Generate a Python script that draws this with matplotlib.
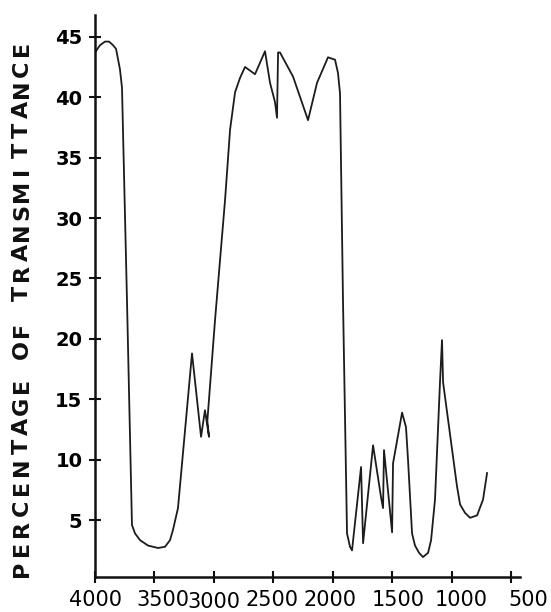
import matplotlib
matplotlib.use("Agg")
import matplotlib.pyplot as plt
import matplotlib.transforms as mtransforms

# hand traced IR spectrum (wavenumber cm-1, % transmittance)
wavenumber = [4000, 3958, 3916, 3882, 3848, 3823, 3790, 3773, 3731, 3689,
              3663, 3621, 3554, 3470, 3411, 3369, 3344, 3302, 3184, 3108,
              3075, 3041, 3055, 2990, 2906, 2864, 2822, 2780, 2738, 2654,
              2570, 2528, 2486, 2469, 2460, 2444, 2334, 2208, 2132, 2040,
              1981, 1956, 1939, 1914, 1880, 1855, 1838, 1762, 1745, 1661,
              1594, 1577, 1569, 1501, 1493, 1417, 1384, 1367, 1333, 1308,
              1274, 1241, 1198, 1173, 1140, 1098, 1081, 1072, 955, 929,
              887, 845, 786, 736, 702]
transmittance = [43.7, 44.3, 44.6, 44.6, 44.3, 44.0, 42.3, 40.8, 23.2, 4.6,
                 3.9, 3.35, 2.9, 2.7, 2.8, 3.35, 4.2, 6.0, 18.8, 11.9,
                 14.1, 11.9, 13.2, 21.6, 31.5, 37.3, 40.4, 41.6, 42.5, 41.9,
                 43.8, 41.2, 39.6, 38.3, 43.7, 43.7, 41.7, 38.1, 41.2, 43.3,
                 43.1, 42.0, 40.3, 23.2, 3.9, 2.8, 2.5, 9.4, 3.1, 11.2,
                 6.9, 6.0, 10.8, 4.0, 9.7, 13.9, 12.7, 10.0, 3.9, 2.9,
                 2.3, 1.95, 2.3, 3.35, 6.7, 16.4, 19.9, 16.4, 7.8, 6.3,
                 5.6, 5.2, 5.4, 6.7, 8.9]

x_ticks = [4000, 3500, 3000, 2500, 2000, 1500, 1000, 500]
x_tick_labels = ['4000', '3500', '3000', '2500', '2000', '1500', '1000', '500']
y_ticks = [5, 10, 15, 20, 25, 30, 35, 40, 45]
y_tick_labels = ['5', '10', '15', '20', '25', '30', '35', '40', '45']
y_title = 'PERCENTAGE OF TRANSMITTANCE'

# hand-lettered labels sit a bit off their ticks (pixels: dx, dy)
x_label_shift = [(1, 0), (8, 0), (0, -3), (-1, 0), (-3, 0), (6, 0), (10, 0), (17, 0)]

W, H = 551, 612
fig = plt.figure(figsize=(W / 100, H / 100), dpi=100)
ax = fig.add_axes([95 / W, 1 - 577 / H, (520 - 95) / W, (577 - 15) / H])

ax.plot(wavenumber, transmittance, color='#1c1c1c', lw=1.3, solid_joinstyle='round')

ax.set_xlim(4000, 425)
ax.set_ylim(0.3, 46.8)

ax.spines['top'].set_visible(False)
ax.spines['right'].set_visible(False)
for side in ['left', 'bottom']:
    ax.spines[side].set_linewidth(1.8)
    ax.spines[side].set_color('#111111')

ax.set_xticks(x_ticks)
ax.set_xticklabels(x_tick_labels, fontsize=15)
ax.set_yticks(y_ticks)
ax.set_yticklabels(y_tick_labels, fontsize=14, fontweight='bold')
ax.tick_params(axis='both', direction='inout', length=8, width=1.5, color='#111111')
ax.tick_params(axis='x', pad=5)
ax.tick_params(axis='y', pad=5)

for lab, (dx, dy) in zip(ax.get_xticklabels(), x_label_shift):
    lab.set_transform(lab.get_transform() +
                      mtransforms.ScaledTranslation(dx / 100, dy / 100, fig.dpi_scale_trans))

# spaced out vertical title, letter by letter
step, gap = 20.4, 15.5
py = 569.0
for ch in y_title:
    if ch == ' ':
        py -= gap
        continue
    fig.text(22 / W, 1 - py / H, ch, rotation=90, ha='center', va='center',
             fontsize=16, fontweight='bold', color='#111111')
    py -= step

fig.savefig('out.png', dpi=100)
